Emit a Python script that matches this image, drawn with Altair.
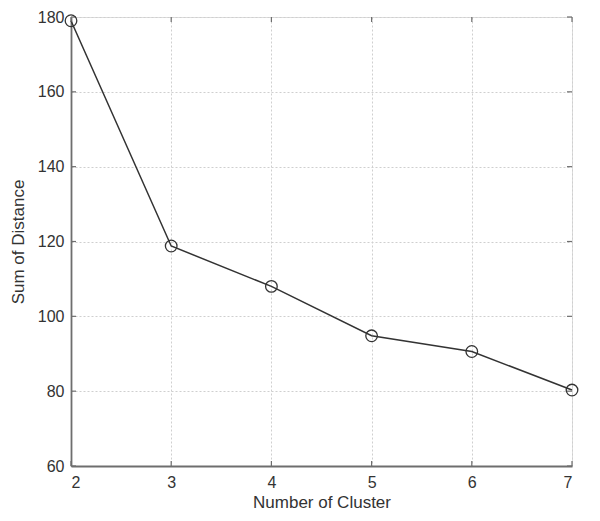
import altair as alt
import pandas as pd

clusters = [2, 3, 4, 5, 6, 7]
distances = [179, 118.8, 108, 94.8, 90.6, 80.3]
y_ticks = [60, 80, 100, 120, 140, 160, 180]

df = pd.DataFrame({"k": clusters, "d": distances})
dy = pd.DataFrame({"t": y_ticks})

font = "Liberation Sans"
W, H = 501, 449

xscale = alt.Scale(domain=[2, 7], nice=False)
yscale = alt.Scale(domain=[60, 180], nice=False, zero=False)

x = alt.X("k:Q", scale=xscale,
          axis=alt.Axis(values=clusters, title="Number of Cluster", format="d",
                        grid=True, gridColor="#cfcfcf", gridDash=[2, 2],
                        domainColor="#6e6e6e", domainWidth=1.8, ticks=False,
                        labelPadding=8, labelFontSize=16, labelColor="#333333",
                        labelFont=font, titleFontSize=17, titleFont=font,
                        titleFontWeight="normal", titleColor="#333333", titlePadding=4))
y = alt.Y("d:Q", scale=yscale,
          axis=alt.Axis(values=y_ticks, title="Sum of Distance",
                        grid=True, gridColor="#cfcfcf", gridDash=[2, 2],
                        domainColor="#6e6e6e", domainWidth=1.8, ticks=False,
                        labelPadding=7, labelFontSize=16, labelColor="#333333",
                        labelFont=font, titleFontSize=17, titleFont=font,
                        titleFontWeight="normal", titleColor="#333333", titlePadding=10))

tick_color = "#6e6e6e"
xt = alt.X("k:Q", scale=xscale)
yt = alt.Y("t:Q", scale=yscale)
ticks_bottom = alt.Chart(df).mark_rule(color=tick_color, strokeWidth=1.2).encode(
    x=xt, y=alt.value(H), y2=alt.value(H - 5))
ticks_top = alt.Chart(df).mark_rule(color=tick_color, strokeWidth=1.2).encode(
    x=xt, y=alt.value(0), y2=alt.value(5))
ticks_left = alt.Chart(dy).mark_rule(color=tick_color, strokeWidth=1.2).encode(
    y=yt, x=alt.value(0), x2=alt.value(5))
ticks_right = alt.Chart(dy).mark_rule(color=tick_color, strokeWidth=1.2).encode(
    y=yt, x=alt.value(W), x2=alt.value(W - 5))

line = alt.Chart(df).mark_line(color="#333333", strokeWidth=1.5).encode(x=x, y=y)
pts = alt.Chart(df).mark_point(shape="circle", size=135, filled=False,
                               color="#333333", strokeWidth=1.3, opacity=1).encode(x=x, y=y)

chart = (line + ticks_bottom + ticks_top + ticks_left + ticks_right + pts).properties(
    width=W, height=H,
    autosize=alt.AutoSizeParams(type="none"),
    padding={"left": 63, "top": 9, "right": 20, "bottom": 47},
).configure_view(stroke="#6e6e6e", strokeWidth=1.8).configure(background="white")

chart.save("out.html", embed_options={"renderer": "svg", "actions": False})
